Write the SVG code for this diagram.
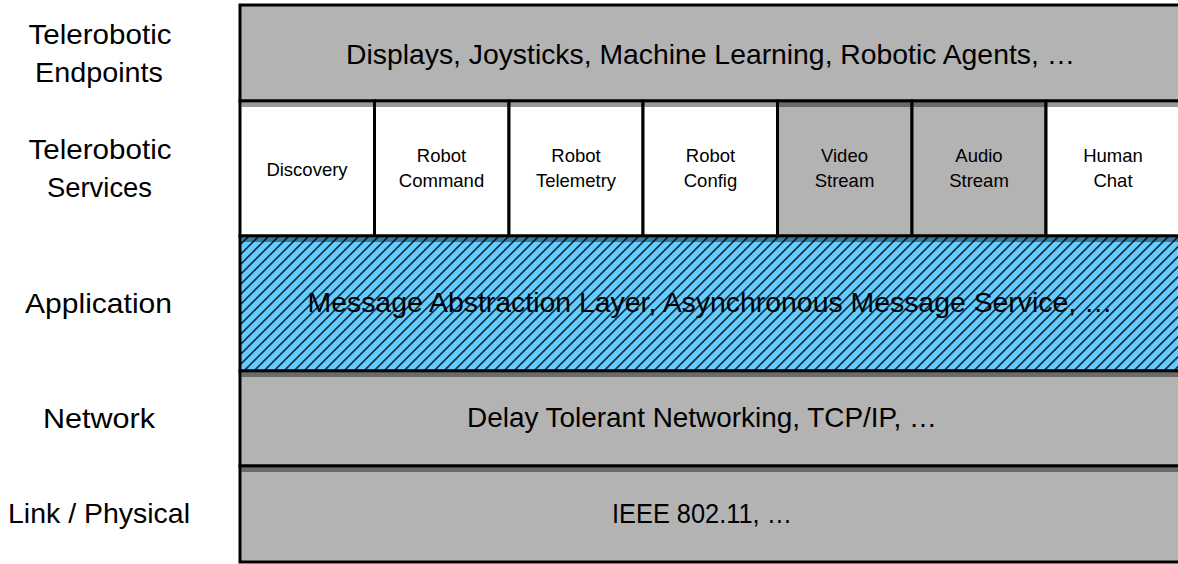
<svg xmlns="http://www.w3.org/2000/svg" width="1178" height="564" viewBox="0 0 1178 564">
  <style>
    .box { stroke: #000; stroke-width: 3; }
    .grey { fill: #b3b3b3; }
    .white { fill: #ffffff; }
    .shadow { fill: #000; fill-opacity: 0.4; stroke: none; }
    text { font-family: "Liberation Sans", Arial, sans-serif; fill: #000; text-anchor: middle; }
    .big { font-size: 28px; }
    .lbl { font-size: 28px; }
    .svc { font-size: 18.5px; }
  </style>
  <defs>
    <pattern id="hatch" patternUnits="userSpaceOnUse" width="7.07" height="10" patternTransform="rotate(45)">
      <rect width="7.07" height="10" fill="#66ccff"/>
      <line x1="3.5" y1="0" x2="3.5" y2="10" stroke="#000" stroke-width="1.6" stroke-opacity="0.85"/>
    </pattern>
  </defs>
  <rect width="1178" height="564" fill="#ffffff"/>

  <g id="labels">
    <g id="label-endpoints">
      <text class="lbl" x="100" y="44" textLength="143" lengthAdjust="spacingAndGlyphs">Telerobotic</text>
      <text class="lbl" x="99" y="82" textLength="128" lengthAdjust="spacingAndGlyphs">Endpoints</text>
    </g>
    <g id="label-services">
      <text class="lbl" x="100" y="159" textLength="143" lengthAdjust="spacingAndGlyphs">Telerobotic</text>
      <text class="lbl" x="99.5" y="197" textLength="105" lengthAdjust="spacingAndGlyphs">Services</text>
    </g>
    <g id="label-application">
      <text class="lbl" x="98.5" y="313" textLength="147" lengthAdjust="spacingAndGlyphs">Application</text>
    </g>
    <g id="label-network">
      <text class="lbl" x="99" y="428" textLength="112" lengthAdjust="spacingAndGlyphs">Network</text>
    </g>
    <g id="label-link">
      <text class="lbl" x="99" y="523" textLength="182" lengthAdjust="spacingAndGlyphs">Link / Physical</text>
    </g>
  </g>

  <g id="endpoints">
    <rect class="box grey" x="240" y="5" width="960" height="96"/>
    <text class="big" x="710.5" y="64" textLength="729" lengthAdjust="spacingAndGlyphs">Displays, Joysticks, Machine Learning, Robotic Agents, …</text>
  </g>

  <g id="services">
    <g id="svc-discovery">
      <rect class="box white" x="240" y="101" width="134.5" height="135"/>
      <text class="svc" x="307" y="176">Discovery</text>
    </g>
    <g id="svc-command">
      <rect class="box white" x="374.5" y="101" width="134.5" height="135"/>
      <text class="svc" x="441.5" y="162">Robot</text>
      <text class="svc" x="441.5" y="187">Command</text>
    </g>
    <g id="svc-telemetry">
      <rect class="box white" x="509" y="101" width="134" height="135"/>
      <text class="svc" x="576" y="162">Robot</text>
      <text class="svc" x="576" y="187">Telemetry</text>
    </g>
    <g id="svc-config">
      <rect class="box white" x="643" y="101" width="134.5" height="135"/>
      <text class="svc" x="710.5" y="162">Robot</text>
      <text class="svc" x="710.5" y="187">Config</text>
    </g>
    <g id="svc-video">
      <rect class="box grey" x="777.5" y="101" width="134.5" height="135"/>
      <text class="svc" x="844.5" y="162">Video</text>
      <text class="svc" x="844.5" y="187">Stream</text>
    </g>
    <g id="svc-audio">
      <rect class="box grey" x="912" y="101" width="134" height="135"/>
      <text class="svc" x="979" y="162">Audio</text>
      <text class="svc" x="979" y="187">Stream</text>
    </g>
    <g id="svc-chat">
      <rect class="box white" x="1046" y="101" width="150" height="135"/>
      <text class="svc" x="1113" y="162">Human</text>
      <text class="svc" x="1113" y="187">Chat</text>
    </g>
    <rect class="shadow" x="241.5" y="102.5" width="950" height="4.5"/>
  </g>

  <g id="application">
    <rect class="box" fill="url(#hatch)" x="240" y="236" width="960" height="135"/>
    <rect class="shadow" x="241.5" y="237.5" width="950" height="4.5"/>
    <text class="big" x="710" y="312" textLength="805" lengthAdjust="spacingAndGlyphs">Message Abstraction Layer, Asynchronous Message Service, …</text>
  </g>

  <g id="network">
    <rect class="box grey" x="240" y="371" width="960" height="95"/>
    <rect class="shadow" x="241.5" y="372.5" width="950" height="4.5"/>
    <text class="big" x="702" y="427" textLength="470" lengthAdjust="spacingAndGlyphs">Delay Tolerant Networking, TCP/IP, …</text>
  </g>

  <g id="link">
    <rect class="box grey" x="240" y="466" width="960" height="96"/>
    <rect class="shadow" x="241.5" y="467.5" width="950" height="4.5"/>
    <text class="big" x="702" y="523" textLength="180" lengthAdjust="spacingAndGlyphs">IEEE 802.11, …</text>
  </g>

  <g id="connectors"/>
</svg>
